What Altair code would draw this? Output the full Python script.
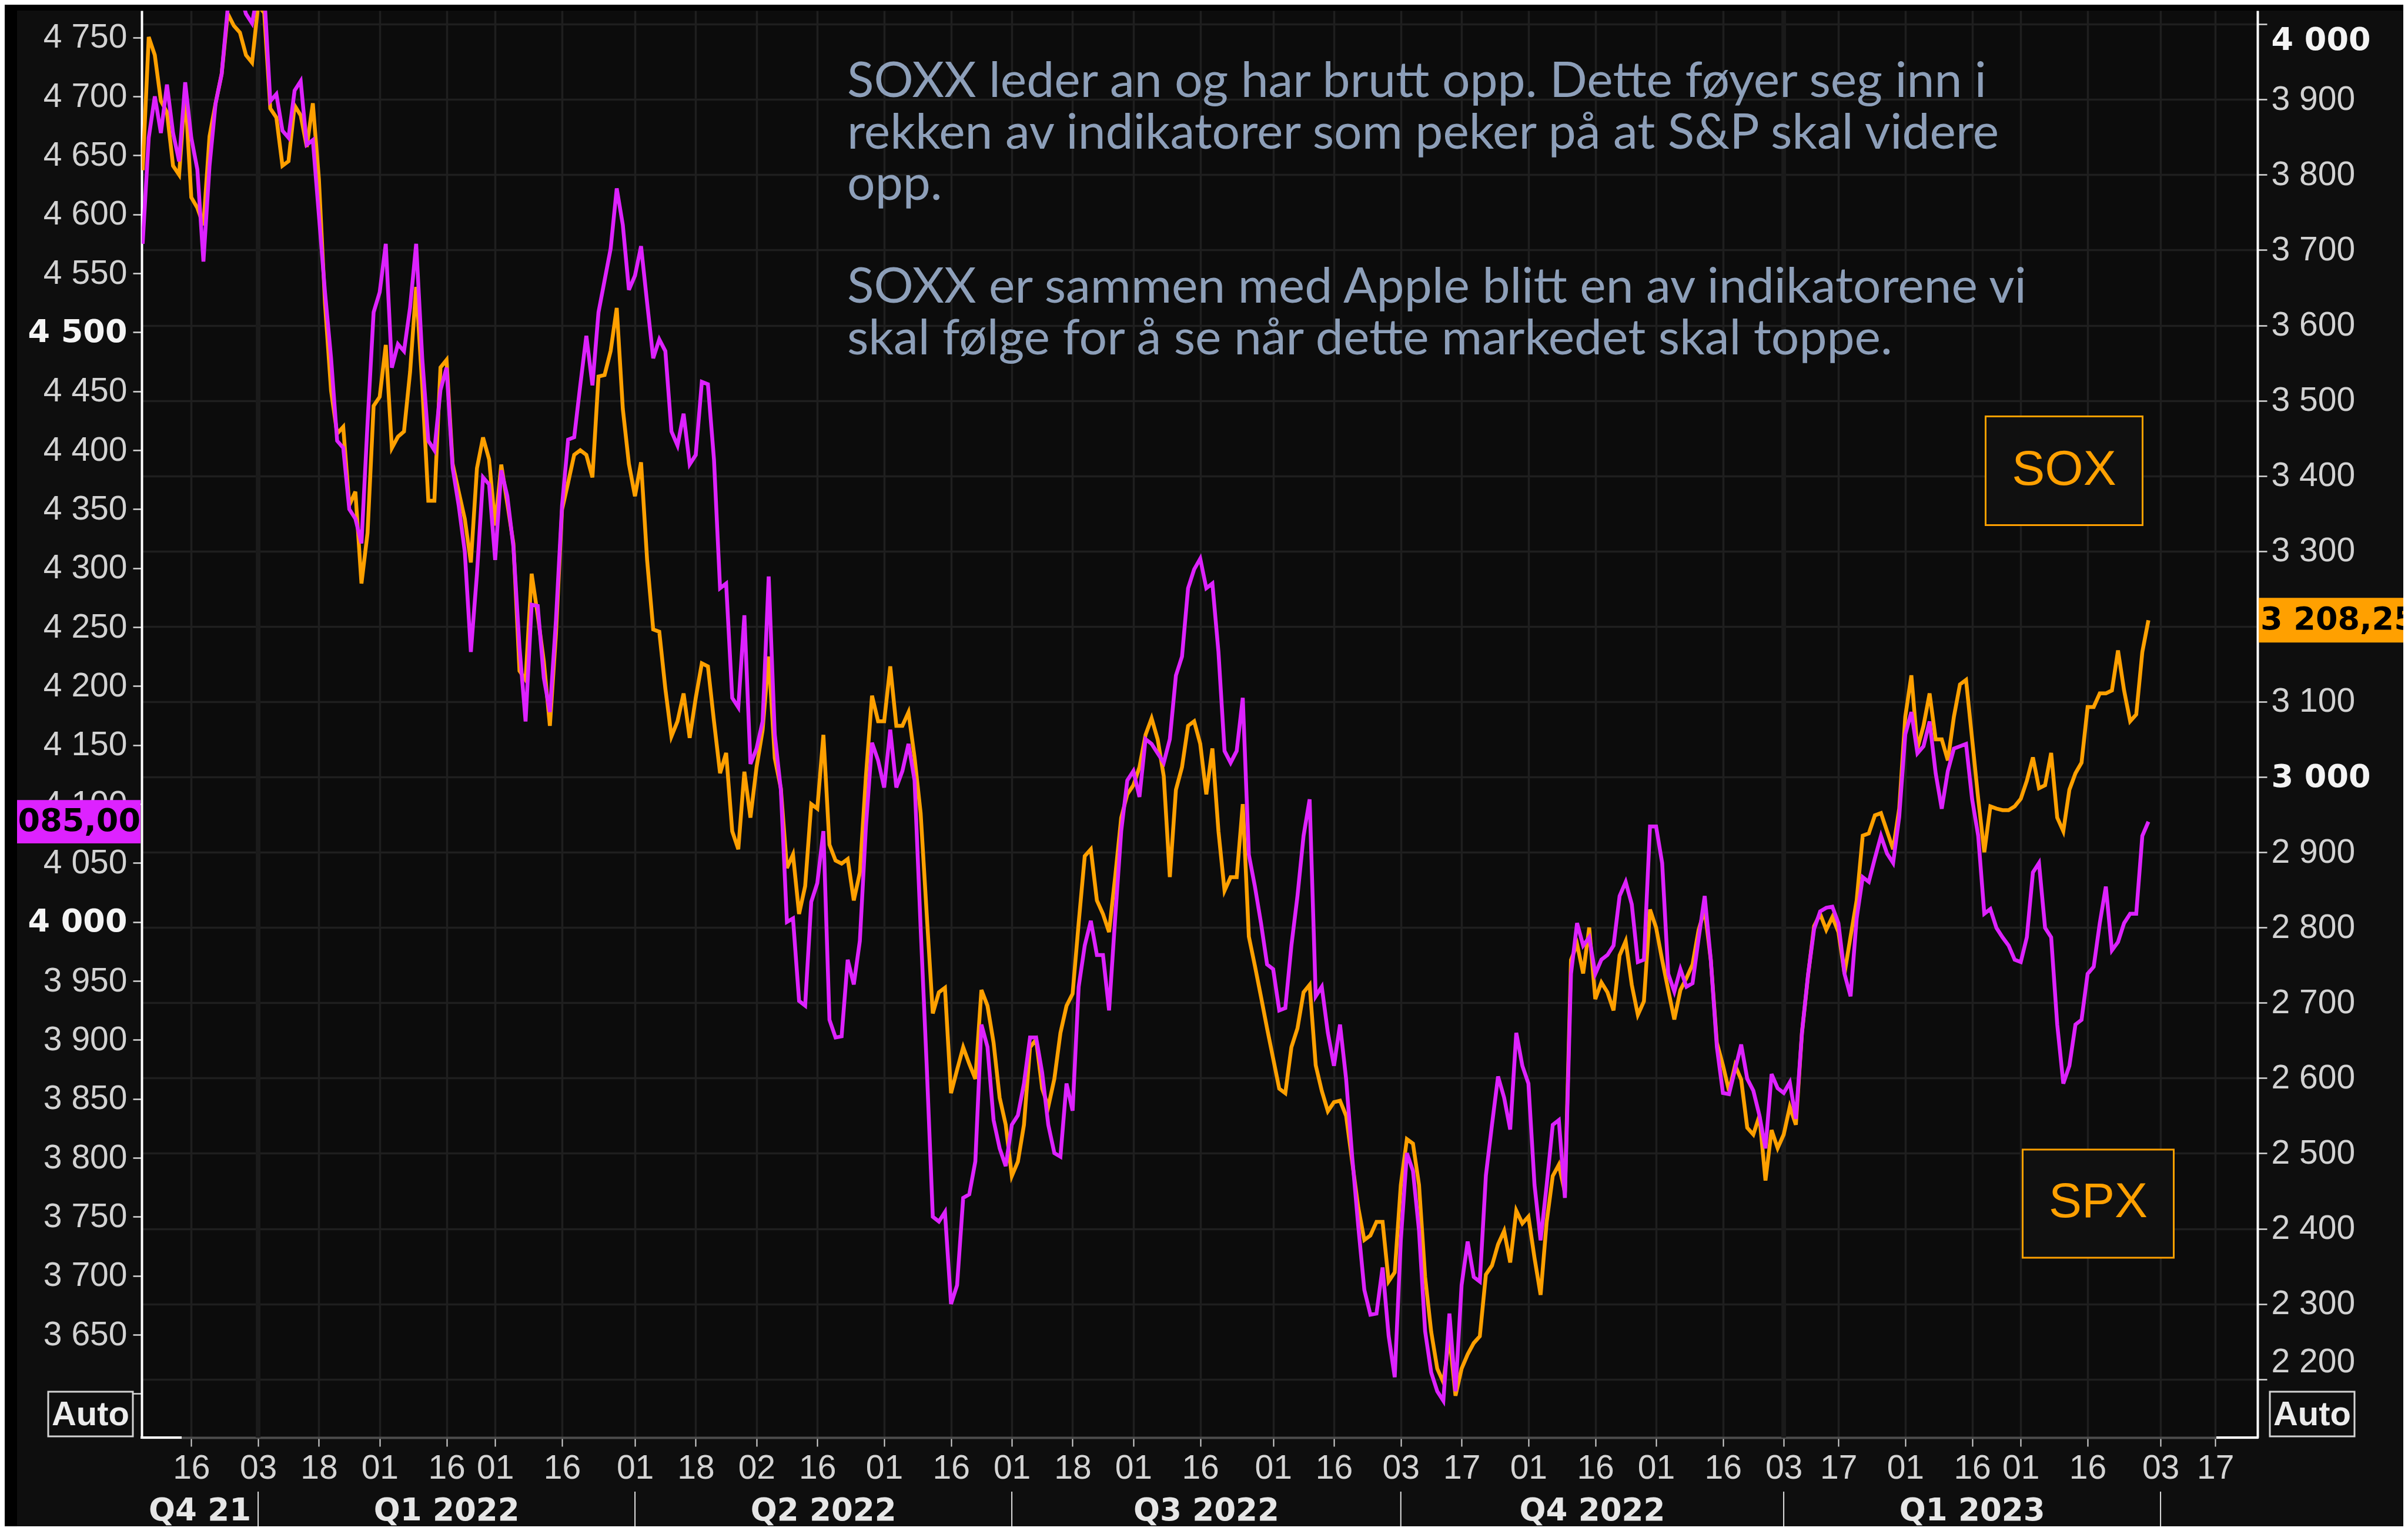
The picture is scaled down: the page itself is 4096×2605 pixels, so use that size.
import altair as alt
import pandas as pd

# ---------------- data ----------------
# x is a trading-day index: 0 = 3 Jan 2022; first point = index FIRST_DAY
FIRST_DAY = -19

spx_close = [
    4575, 4665, 4700, 4669, 4710, 4669, 4645, 4712, 4665, 4638, 4560, 4641, 4694, 4719, 4775, 4785, 4788, 4770, 4762,
    4790, 4788, 4696, 4702, 4671, 4665, 4705, 4713, 4659, 4663, 4599, 4534, 4478, 4408, 4402, 4350, 4342, 4321, 4423,
    4517, 4534, 4575, 4470, 4490, 4484, 4521, 4575, 4478, 4408, 4400, 4451, 4470, 4385, 4353, 4314, 4229, 4295, 4377,
    4371, 4307, 4383, 4361, 4318, 4233, 4170, 4269, 4268, 4207, 4178, 4256, 4353, 4409, 4411, 4455, 4497, 4455, 4517,
    4544, 4571, 4622, 4591, 4536, 4548, 4573, 4525, 4478, 4494, 4484, 4416, 4404, 4431, 4388, 4396, 4458, 4456, 4392,
    4283, 4287, 4190, 4182, 4260, 4134, 4147, 4170, 4293, 4159, 4112, 4000, 4003, 3933, 3929, 4017, 4033, 4077, 3917,
    3902, 3903, 3968, 3947, 3984, 4081, 4152, 4137, 4114, 4163, 4114, 4128, 4151, 4120, 3995, 3878, 3750, 3746, 3754,
    3676, 3692, 3766, 3769, 3797, 3913, 3894, 3832, 3808, 3793, 3828, 3836, 3863, 3902, 3902, 3872, 3828, 3804, 3801,
    3863, 3840, 3945, 3980, 4001, 3972, 3972, 3925, 4003, 4077, 4120, 4128, 4106, 4155, 4151, 4143, 4135, 4155, 4209,
    4225, 4283, 4299, 4308, 4283, 4287, 4229, 4145, 4135, 4145, 4190, 4057, 4030, 3999, 3964, 3960, 3925, 3927, 3980,
    4022, 4073, 4104, 3937, 3945, 3906, 3878, 3913, 3867, 3801, 3742, 3688, 3667, 3668, 3707, 3649, 3614, 3730, 3804,
    3789, 3738, 3653, 3618, 3602, 3594, 3668, 3602, 3692, 3729, 3699, 3695, 3785, 3828, 3869, 3851, 3824, 3906, 3878,
    3863, 3777, 3730, 3777, 3828, 3832, 3766, 3956, 3999, 3980, 3987, 3956, 3968, 3972, 3980, 4022, 4034, 4015, 3966,
    3968, 4081, 4081, 4050, 3956, 3941, 3960, 3945, 3948, 3986, 4022, 3968, 3894, 3855, 3854, 3875, 3896, 3867, 3857,
    3836, 3808, 3871, 3859, 3855, 3864, 3833, 3906, 3955, 3994, 4009, 4012, 4013, 3999, 3956, 3937, 4003, 4038, 4034,
    4054, 4073, 4058, 4050, 4089, 4159, 4178, 4143, 4149, 4170, 4126, 4096, 4128, 4147, 4149, 4151, 4104, 4073, 4007,
    4011, 3995, 3987, 3980, 3968, 3966, 3987, 4042, 4050, 3995, 3987, 3913, 3863, 3878, 3913, 3917, 3956, 3962, 3999,
    4030, 3976, 3983, 3999, 4007, 4007, 4073, 4085.00,
]

sox_close = [
    3806, 3983, 3959, 3898, 3883, 3812, 3800, 3910, 3770, 3756, 3733, 3851, 3895, 3934, 4014, 3998, 3989, 3959, 3949,
    4025, 4015, 3888, 3876, 3812, 3818, 3892, 3879, 3837, 3895, 3794, 3629, 3513, 3456, 3465, 3361, 3379, 3257, 3324,
    3493, 3505, 3574, 3437, 3452, 3459, 3538, 3651, 3520, 3367, 3367, 3544, 3554, 3416, 3379, 3343, 3285, 3410, 3451,
    3422, 3334, 3415, 3363, 3310, 3141, 3129, 3270, 3215, 3154, 3068, 3190, 3355, 3391, 3428, 3434, 3428, 3398, 3532,
    3534, 3566, 3623, 3489, 3416, 3373, 3418, 3288, 3196, 3193, 3117, 3054, 3074, 3111, 3052, 3105, 3151, 3147, 3074,
    3005, 3032, 2928, 2904, 3007, 2946, 3013, 3062, 3160, 3025, 2985, 2879, 2897, 2818, 2855, 2964, 2958, 3056, 2910,
    2889, 2885, 2891, 2836, 2873, 3001, 3108, 3074, 3074, 3147, 3068, 3068, 3086, 3026, 2952, 2818, 2686, 2714, 2720,
    2580, 2611, 2641, 2619, 2599, 2717, 2696, 2647, 2574, 2538, 2470, 2489, 2538, 2641, 2651, 2586, 2562, 2599, 2660,
    2696, 2712, 2806, 2895, 2904, 2836, 2818, 2794, 2867, 2946, 2977, 2989, 3013, 3056, 3078, 3050, 3001, 2867, 2983,
    3013, 3068, 3074, 3044, 2977, 3038, 2928, 2849, 2867, 2867, 2964, 2788, 2749, 2708, 2666, 2626, 2586, 2580, 2641,
    2666, 2714, 2724, 2617, 2583, 2556, 2568, 2570, 2550, 2489, 2428, 2385, 2391, 2409, 2409, 2330, 2342, 2458, 2519,
    2513, 2458, 2336, 2263, 2214, 2196, 2257, 2178, 2214, 2233, 2248, 2257, 2339, 2351, 2379, 2397, 2355, 2424, 2407,
    2416, 2361, 2312, 2409, 2470, 2485, 2448, 2757, 2778, 2739, 2800, 2705, 2727, 2714, 2690, 2763, 2782, 2724, 2684,
    2702, 2824, 2800, 2757, 2717, 2678, 2717, 2733, 2751, 2797, 2824, 2757, 2647, 2617, 2583, 2617, 2598, 2534, 2525,
    2550, 2464, 2531, 2507, 2525, 2562, 2538, 2660, 2736, 2802, 2818, 2797, 2814, 2794, 2739, 2788, 2836, 2922, 2925,
    2949, 2952, 2928, 2904, 2958, 3080, 3135, 3038, 3068, 3111, 3050, 3050, 3022, 3080, 3123, 3129, 3050, 2971, 2900,
    2961, 2958, 2956, 2956, 2961, 2971, 2995, 3026, 2985, 2989, 3032, 2946, 2928, 2983, 3005, 3019, 3093, 3093, 3111,
    3111, 3115, 3168, 3115, 3074, 3083, 3166, 3208.25,
]

# x-axis: day-of-month tick labels at their trading-day index
tick_day = [-11, 0, 10, 20, 31, 39, 50, 62, 72, 82, 92, 103, 114, 124, 134, 144, 155, 167, 177,
            188, 198, 209, 220, 230, 241, 251, 260, 271, 282, 290, 301, 313, 322]
tick_label = ["16", "03", "18", "01", "16", "01", "16", "01", "18", "02", "16", "01", "16", "01", "18", "01", "16",
              "01", "16", "03", "17", "01", "16", "01", "16", "03", "17", "01", "16", "01", "16", "03", "17"]

quarter_label = ["Q4 21", "Q1 2022", "Q2 2022", "Q3 2022", "Q4 2022", "Q1 2023"]
quarter_start = [-19.16, 0, 62, 124, 188, 251]
quarter_end = [0, 62, 124, 188, 251, 313]
quarter_break = [0, 62, 124, 188, 251, 313]
year_break = [0, 251]

spx_ticks = list(range(3600, 4751, 50))
sox_ticks = list(range(2200, 4001, 100))
spx_bold = [4500, 4000]
sox_bold = [4000, 3000]

annotation_1 = [
    "SOXX leder an og har brutt opp. Dette føyer seg inn i",
    "rekken av indikatorer som peker på at S&P skal videre",
    "opp.",
]
annotation_2 = [
    "SOXX er sammen med Apple blitt en av indikatorene vi",
    "skal følge for å se når dette markedet skal toppe.",
]

# ---------------- layout ----------------
W, H = 3599, 2428
PAD = {"left": 233, "top": 10, "right": 248, "bottom": 151}
X_DOM = [-19.16, 328.95]
SPX_DOM = [3562.8, 4772.8]
SOX_DOM = [2122.5, 4018.1]

ORANGE = "#ffa000"
MAGENTA = "#dd22ff"
TEXT_BLUE = "#8d9fb9"
GRID = "#1f1f1f"
LINE_W = 6.5

series = pd.DataFrame({
    "day": list(range(FIRST_DAY, FIRST_DAY + len(spx_close))),
    "spx": spx_close,
    "sox": sox_close,
})

xscale = alt.Scale(domain=X_DOM, nice=False, zero=False)
spx_scale = alt.Scale(domain=SPX_DOM, nice=False, zero=False)
sox_scale = alt.Scale(domain=SOX_DOM, nice=False, zero=False)

x_label_expr = ("[" + ",".join("'%s'" % s for s in tick_label) + "][indexof(["
                + ",".join(str(d) for d in tick_day) + "], datum.value)]")
num_expr = "replace(format(datum.value, ','), ',', ' ')"

x_axis = alt.Axis(
    orient="bottom", values=tick_day, labelExpr=x_label_expr, title=None,
    grid=True, gridColor=GRID, gridWidth=3.5,
    domain=True, domainColor="#4d4d4d", domainWidth=4,
    ticks=True, tickColor="#d8d8d8", tickSize=15, tickWidth=2,
    labelFont="Liberation Sans", labelFontSize=57, labelColor="#d4d4d4",
    labelBaseline="middle", labelPadding=37, labelOverlap=False, labelFlush=False, labelAngle=0,
)


def y_axis(orient, ticks, bold_vals, grid, hide):
    test = " || ".join("datum.value == %d" % v for v in bold_vals)
    expr = "datum.value == %d ? '' : %s" % (hide, num_expr)
    kw = dict(
        orient=orient, values=ticks, title=None, labelExpr=expr,
        grid=grid, gridColor=GRID, gridWidth=3.5,
        domain=True, domainColor="#ffffff", domainWidth=4,
        ticks=True, tickColor="#d8d8d8", tickSize=15 if orient == "left" else 16, tickWidth=2.5,
        labelFont={"condition": {"test": test, "value": "DejaVu Sans"}, "value": "Liberation Sans"},
        labelFontWeight={"condition": {"test": test, "value": "bold"}, "value": "normal"},
        labelFontSize={"condition": {"test": test, "value": 54}, "value": 57},
        labelColor={"condition": {"test": test, "value": "#f4f4f4"}, "value": "#d2d2d2"},
        labelPadding=10 if orient == "left" else 7,
        labelOverlap=False,
    )
    if orient == "left":
        kw.update(labelBaseline="middle", labelFlush=False)
    else:
        kw.update(labelFlush=110)  # end labels pushed inside, as in the reference
    return alt.Axis(**kw)


spx_axis = y_axis("left", spx_ticks, spx_bold, False, hide=3600)
sox_axis = y_axis("right", sox_ticks, sox_bold, True, hide=3200)


def X(field):
    return alt.X(field, type="quantitative", scale=xscale, axis=x_axis)


one = pd.DataFrame({"k": [0]})

# ---------------- background pieces ----------------
black_left = alt.Chart(one).mark_rect(color="#000000").encode(
    x=alt.value(-PAD["left"]), x2=alt.value(-212), y=alt.value(-PAD["top"]), y2=alt.value(H + PAD["bottom"]))
black_top = alt.Chart(one).mark_rect(color="#000000").encode(
    x=alt.value(-PAD["left"]), x2=alt.value(W + PAD["right"]), y=alt.value(-PAD["top"]), y2=alt.value(0))
year_lines = alt.Chart(pd.DataFrame({"yb": year_break})).mark_rule(color="#1b1b1b", strokeWidth=8).encode(
    x=X("yb"), y=alt.value(0), y2=alt.value(H))
scroll_left = alt.Chart(one).mark_rule(color="#ffffff", strokeWidth=4).encode(
    x=alt.value(-2), x2=alt.value(68), y=alt.value(H))
scroll_right = alt.Chart(one).mark_rule(color="#ffffff", strokeWidth=4).encode(
    x=alt.value(3529), x2=alt.value(W + 2), y=alt.value(H))

# ---------------- SOX (right axis) ----------------
sox_line = alt.Chart(series).mark_line(color=ORANGE, strokeWidth=LINE_W, clip=True).encode(
    x=X("day"), y=alt.Y("sox:Q", scale=sox_scale, axis=sox_axis))
sox_last = pd.DataFrame({"v": [sox_close[-1]]})
sox_badge = alt.Chart(sox_last).transform_calculate(
    lo="datum.v - 29.7", hi="datum.v + 29.7").mark_rect(color=ORANGE).encode(
    x=alt.value(W + 2), x2=alt.value(W + PAD["right"] + 5),
    y=alt.Y("lo:Q", scale=sox_scale, axis=sox_axis), y2="hi:Q")
sox_badge_text = alt.Chart(sox_last).transform_calculate(
    lbl="replace(replace(format(datum.v, ',.2f'), ',', ' '), '.', ',')").mark_text(
    align="left", baseline="middle", font="DejaVu Sans", fontWeight="bold", fontSize=54, color="#000000").encode(
    x=alt.value(W + 5), y=alt.Y("v:Q", scale=sox_scale, axis=sox_axis), text="lbl:N")
sox_group = alt.layer(sox_line, sox_badge, sox_badge_text)

# ---------------- SPX (left axis) ----------------
spx_line = alt.Chart(series).mark_line(color=MAGENTA, strokeWidth=LINE_W, clip=True).encode(
    x=X("day"), y=alt.Y("spx:Q", scale=spx_scale, axis=spx_axis))
spx_last = pd.DataFrame({"v": [spx_close[-1]]})
spx_badge = alt.Chart(spx_last).transform_calculate(
    lo="datum.v - 18.4", hi="datum.v + 18.4").mark_rect(color=MAGENTA).encode(
    x=alt.value(-212), x2=alt.value(-2),
    y=alt.Y("lo:Q", scale=spx_scale, axis=spx_axis), y2="hi:Q")
spx_badge_text = alt.Chart(spx_last).transform_calculate(
    lbl="replace(replace(format(datum.v, ',.2f'), ',', ' '), '.', ',')").mark_text(
    align="right", baseline="middle", font="DejaVu Sans", fontWeight="bold", fontSize=54, color="#000000").encode(
    x=alt.value(-2), y=alt.Y("v:Q", scale=spx_scale, axis=spx_axis), text="lbl:N")
spx_group = alt.layer(spx_line, spx_badge, spx_badge_text)


# ---------------- annotations ----------------
def note(lines, base_y):
    return alt.Chart(one).mark_text(
        text=lines, align="left", baseline="alphabetic", font="Lato", fontSize=84,
        lineHeight=87.5, color=TEXT_BLUE).encode(x=alt.value(1200), y=alt.value(base_y))


note_1 = note(annotation_1, 147)
note_2 = note(annotation_2, 147 + 4 * 87.5)


def label_box(cx, cy, w, h, label, base_y):
    box = alt.Chart(one).mark_rect(fill="#101010", stroke=ORANGE, strokeWidth=3).encode(
        x=alt.value(cx - w / 2), x2=alt.value(cx + w / 2), y=alt.value(cy - h / 2), y2=alt.value(cy + h / 2))
    txt = alt.Chart(one).mark_text(
        text=label, align="center", baseline="alphabetic", font="Liberation Sans", fontSize=84,
        color=ORANGE).encode(x=alt.value(cx), y=alt.value(base_y))
    return box + txt


sox_box = label_box(3270, 783, 267, 185, "SOX", 807)
spx_box = label_box(3328, 2030, 257, 184, "SPX", 2053)


def auto_box(x0, x1):
    box = alt.Chart(one).mark_rect(fill="#0e0e0e", stroke="#d4d4d4", strokeWidth=3).encode(
        x=alt.value(x0), x2=alt.value(x1), y=alt.value(2350), y2=alt.value(2426))
    txt = alt.Chart(one).mark_text(
        text="Auto", align="center", baseline="middle", font="Liberation Sans", fontWeight="bold",
        fontSize=58, color="#ececec").encode(x=alt.value((x0 + x1) / 2), y=alt.value(2390))
    return box + txt


auto_left = auto_box(-159, -15)
auto_right = auto_box(3620, 3764)

quarters = pd.DataFrame({"ql": quarter_label, "qs": quarter_start, "qe": quarter_end})
quarter_text = alt.Chart(quarters).transform_calculate(qc="(datum.qs + datum.qe) / 2").mark_text(
    align="center", baseline="middle", font="DejaVu Sans", fontWeight="bold", fontSize=53,
    color="#e6e6e6").encode(x=X("qc"), y=alt.value(H + 125), text="ql:N")
quarter_sep = alt.Chart(pd.DataFrame({"qb": quarter_break})).mark_rule(color="#e0e0e0", strokeWidth=2).encode(
    x=X("qb"), y=alt.value(H + 92), y2=alt.value(H + 154))

chart = alt.layer(
    black_left, black_top, year_lines,
    sox_group, spx_group,
    scroll_left, scroll_right,
    note_1, note_2, sox_box, spx_box, auto_left, auto_right,
    quarter_text, quarter_sep,
).resolve_scale(y="independent").properties(
    width=W, height=H, background="#0e0e0e", padding=PAD,
    autosize=alt.AutoSizeParams(type="none"),
).configure_view(fill="#0c0c0c", stroke="transparent")

chart.save("out.html", embed_options={"renderer": "svg", "actions": False})
